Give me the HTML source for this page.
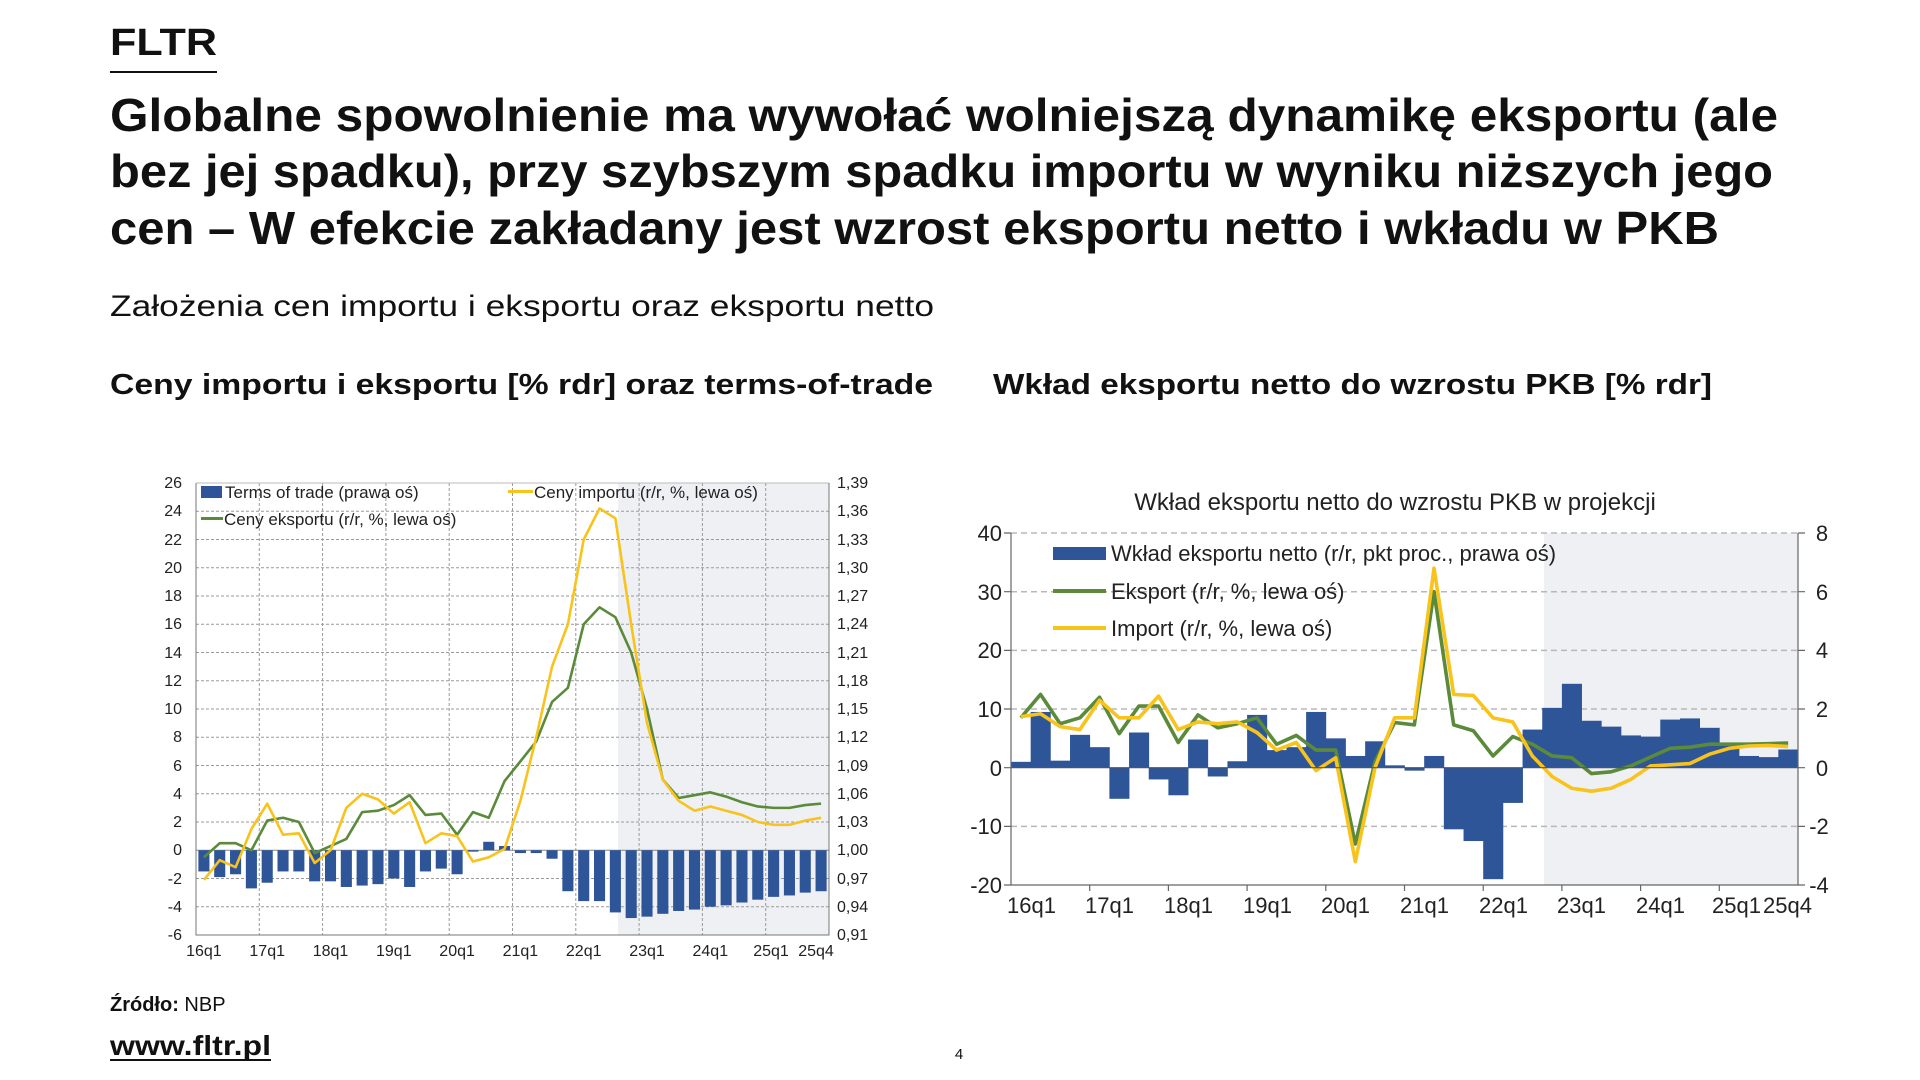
<!DOCTYPE html>
<html><head><meta charset="utf-8"><style>
html,body{margin:0;padding:0;background:#fff;}
svg{display:block;}
.t{font-family:"Liberation Sans",Arial,sans-serif;fill:#111;}
.ax{font-family:"Liberation Sans",Arial,sans-serif;fill:#222;}
</style></head><body>
<svg width="1920" height="1080" viewBox="0 0 1920 1080" xmlns="http://www.w3.org/2000/svg">
<rect width="1920" height="1080" fill="#fff"/>
<!-- header -->
<text class="t" x="110" y="55" font-size="38" font-weight="bold" textLength="107" lengthAdjust="spacingAndGlyphs">FLTR</text>
<rect x="110" y="71" width="107" height="2" fill="#111"/>
<text class="t" x="110" y="131" font-size="46" font-weight="bold" textLength="1668" lengthAdjust="spacingAndGlyphs">Globalne spowolnienie ma wywołać wolniejszą dynamikę eksportu (ale</text>
<text class="t" x="110" y="187" font-size="46" font-weight="bold" textLength="1663" lengthAdjust="spacingAndGlyphs">bez jej spadku), przy szybszym spadku importu w wyniku niższych jego</text>
<text class="t" x="110" y="244" font-size="46" font-weight="bold" textLength="1609" lengthAdjust="spacingAndGlyphs">cen – W efekcie zakładany jest wzrost eksportu netto i wkładu w PKB</text>
<text class="t" x="110" y="316" font-size="30" fill="#222" textLength="824" lengthAdjust="spacingAndGlyphs">Założenia cen importu i eksportu oraz eksportu netto</text>
<text class="t" x="110" y="394" font-size="29" font-weight="bold" textLength="823" lengthAdjust="spacingAndGlyphs">Ceny importu i eksportu [% rdr] oraz terms-of-trade</text>
<text class="t" x="993" y="394" font-size="29" font-weight="bold" textLength="719" lengthAdjust="spacingAndGlyphs">Wkład eksportu netto do wzrostu PKB [% rdr]</text>
<text class="t" x="110" y="1011" font-size="20"><tspan font-weight="bold">Źródło:</tspan> NBP</text>
<text class="t" x="110" y="1055" font-size="28" font-weight="bold" textLength="161" lengthAdjust="spacingAndGlyphs">www.fltr.pl</text>
<rect x="110" y="1059" width="161" height="2" fill="#111"/>
<text class="t" x="959" y="1059" font-size="15" text-anchor="middle">4</text>

<!-- LEFT CHART -->
<rect x="618" y="483" width="211" height="452" fill="#eef0f3"/>
<g stroke="#9a9a9a" stroke-width="1" stroke-dasharray="3,2" fill="none">
<path d="M196 511.25H829M196 539.5H829M196 567.75H829M196 596H829M196 624.25H829M196 652.5H829M196 680.75H829M196 709H829M196 737.25H829M196 765.5H829M196 793.75H829M196 822H829M196 878.5H829M196 906.75H829"/>
<path d="M259.3 483V935M322.6 483V935M385.9 483V935M449.2 483V935M512.5 483V935M575.8 483V935M639.1 483V935M702.4 483V935M765.7 483V935"/>
</g>
<path d="M196 483H829" stroke="#bbb" stroke-width="1"/>
<path d="M196 850.25H829" stroke="#888" stroke-width="1"/>
<path d="M196 483V935H829V483" stroke="#777" stroke-width="1" fill="none"/>
<g transform="translate(196,850.25) scale(15.825,-14.125)">
<g fill="#2e5597">
<rect x="0.15" y="-1.5" width="0.7" height="1.5"/><rect x="1.15" y="-1.9" width="0.7" height="1.9"/><rect x="2.15" y="-1.7" width="0.7" height="1.7"/><rect x="3.15" y="-2.7" width="0.7" height="2.7"/><rect x="4.15" y="-2.3" width="0.7" height="2.3"/><rect x="5.15" y="-1.5" width="0.7" height="1.5"/><rect x="6.15" y="-1.5" width="0.7" height="1.5"/><rect x="7.15" y="-2.2" width="0.7" height="2.2"/><rect x="8.15" y="-2.2" width="0.7" height="2.2"/><rect x="9.15" y="-2.6" width="0.7" height="2.6"/><rect x="10.15" y="-2.5" width="0.7" height="2.5"/><rect x="11.15" y="-2.4" width="0.7" height="2.4"/><rect x="12.15" y="-2.0" width="0.7" height="2.0"/><rect x="13.15" y="-2.6" width="0.7" height="2.6"/><rect x="14.15" y="-1.5" width="0.7" height="1.5"/><rect x="15.15" y="-1.3" width="0.7" height="1.3"/><rect x="16.15" y="-1.7" width="0.7" height="1.7"/><rect x="17.15" y="-0.1" width="0.7" height="0.1"/><rect x="18.15" y="0" width="0.7" height="0.6"/><rect x="19.15" y="0" width="0.7" height="0.3"/><rect x="20.15" y="-0.2" width="0.7" height="0.2"/><rect x="21.15" y="-0.2" width="0.7" height="0.2"/><rect x="22.15" y="-0.6" width="0.7" height="0.6"/><rect x="23.15" y="-2.9" width="0.7" height="2.9"/><rect x="24.15" y="-3.6" width="0.7" height="3.6"/><rect x="25.15" y="-3.6" width="0.7" height="3.6"/><rect x="26.15" y="-4.4" width="0.7" height="4.4"/><rect x="27.15" y="-4.8" width="0.7" height="4.8"/><rect x="28.15" y="-4.7" width="0.7" height="4.7"/><rect x="29.15" y="-4.5" width="0.7" height="4.5"/><rect x="30.15" y="-4.3" width="0.7" height="4.3"/><rect x="31.15" y="-4.2" width="0.7" height="4.2"/><rect x="32.15" y="-4.0" width="0.7" height="4.0"/><rect x="33.15" y="-3.9" width="0.7" height="3.9"/><rect x="34.15" y="-3.7" width="0.7" height="3.7"/><rect x="35.15" y="-3.5" width="0.7" height="3.5"/><rect x="36.15" y="-3.3" width="0.7" height="3.3"/><rect x="37.15" y="-3.2" width="0.7" height="3.2"/><rect x="38.15" y="-3.0" width="0.7" height="3.0"/><rect x="39.15" y="-2.9" width="0.7" height="2.9"/>
</g>
<polyline fill="none" stroke="#5a8a3a" stroke-width="2.6" vector-effect="non-scaling-stroke" stroke-linejoin="round" points="0.5,-0.5 1.5,0.5 2.5,0.5 3.5,0 4.5,2.1 5.5,2.3 6.5,2 7.5,-0.2 8.5,0.3 9.5,0.8 10.5,2.7 11.5,2.8 12.5,3.2 13.5,3.9 14.5,2.5 15.5,2.6 16.5,1.1 17.5,2.7 18.5,2.3 19.5,4.9 20.5,6.3 21.5,7.7 22.5,10.5 23.5,11.5 24.5,16 25.5,17.2 26.5,16.5 27.5,14 28.5,10 29.5,5 30.5,3.7 31.5,3.9 32.5,4.1 33.5,3.8 34.5,3.4 35.5,3.1 36.5,3 37.5,3 38.5,3.2 39.5,3.3"/>
<polyline fill="none" stroke="#f7c31c" stroke-width="2.6" vector-effect="non-scaling-stroke" stroke-linejoin="round" points="0.5,-2.1 1.5,-0.7 2.5,-1.2 3.5,1.5 4.5,3.3 5.5,1.1 6.5,1.2 7.5,-0.9 8.5,0 9.5,3 10.5,4 11.5,3.6 12.5,2.6 13.5,3.4 14.5,0.5 15.5,1.2 16.5,1 17.5,-0.8 18.5,-0.5 19.5,0.1 20.5,3.5 21.5,8 22.5,13 23.5,16 24.5,22 25.5,24.2 26.5,23.5 27.5,16 28.5,9 29.5,5 30.5,3.5 31.5,2.8 32.5,3.1 33.5,2.8 34.5,2.5 35.5,2 36.5,1.8 37.5,1.8 38.5,2.1 39.5,2.3"/>
</g>
<!-- left legend -->
<rect x="201" y="486" width="21" height="12" fill="#2e5597"/>
<text class="ax" x="225" y="498" font-size="17">Terms of trade (prawa oś)</text>
<rect x="508" y="490" width="25" height="3" fill="#f7c31c"/>
<text class="ax" x="534" y="498" font-size="17">Ceny importu (r/r, %, lewa oś)</text>
<rect x="201" y="517" width="22" height="3" fill="#5a8a3a"/>
<text class="ax" x="224" y="525" font-size="17">Ceny eksportu (r/r, %, lewa oś)</text>
<g class="ax" font-size="16" text-anchor="end">
<text x="182" y="488">26</text><text x="182" y="516">24</text><text x="182" y="545">22</text><text x="182" y="573">20</text><text x="182" y="601">18</text><text x="182" y="629">16</text><text x="182" y="658">14</text><text x="182" y="686">12</text><text x="182" y="714">10</text><text x="182" y="742">8</text><text x="182" y="771">6</text><text x="182" y="799">4</text><text x="182" y="827">2</text><text x="182" y="855">0</text><text x="182" y="884">-2</text><text x="182" y="912">-4</text><text x="182" y="940">-6</text>
</g>
<g class="ax" font-size="16">
<text x="837" y="488">1,39</text><text x="837" y="516">1,36</text><text x="837" y="545">1,33</text><text x="837" y="573">1,30</text><text x="837" y="601">1,27</text><text x="837" y="629">1,24</text><text x="837" y="658">1,21</text><text x="837" y="686">1,18</text><text x="837" y="714">1,15</text><text x="837" y="742">1,12</text><text x="837" y="771">1,09</text><text x="837" y="799">1,06</text><text x="837" y="827">1,03</text><text x="837" y="855">1,00</text><text x="837" y="884">0,97</text><text x="837" y="912">0,94</text><text x="837" y="940">0,91</text>
</g>
<g class="ax" font-size="16" text-anchor="middle">
<text x="203.9" y="956">16q1</text><text x="267.2" y="956">17q1</text><text x="330.5" y="956">18q1</text><text x="393.8" y="956">19q1</text><text x="457.1" y="956">20q1</text><text x="520.4" y="956">21q1</text><text x="583.7" y="956">22q1</text><text x="647" y="956">23q1</text><text x="710.3" y="956">24q1</text><text x="771" y="956">25q1</text><text x="816" y="956">25q4</text>
</g>

<!-- RIGHT CHART -->
<text class="ax" x="1395" y="510" font-size="24" text-anchor="middle">Wkład eksportu netto do wzrostu PKB w projekcji</text>
<rect x="1544" y="533" width="254" height="352" fill="#eef0f3"/>
<g stroke="#b8b8b8" stroke-width="1.5" stroke-dasharray="6,4" fill="none">
<path d="M1011 533H1798M1011 591.7H1798M1011 650.4H1798M1011 709H1798M1011 826.4H1798"/>
</g>
<g transform="translate(1011,767.7) scale(19.675,-5.867)" fill="#2e5597">
<rect x="0" y="0" width="1.02" height="1"/><rect x="1" y="0" width="1.02" height="9.5"/><rect x="2" y="0" width="1.02" height="1.2"/><rect x="3" y="0" width="1.02" height="5.6"/><rect x="4" y="0" width="1.02" height="3.5"/><rect x="5" y="-5.3" width="1.02" height="5.3"/><rect x="6" y="0" width="1.02" height="6"/><rect x="7" y="-2" width="1.02" height="2"/><rect x="8" y="-4.7" width="1.02" height="4.7"/><rect x="9" y="0" width="1.02" height="4.8"/><rect x="10" y="-1.5" width="1.02" height="1.5"/><rect x="11" y="0" width="1.02" height="1.1"/><rect x="12" y="0" width="1.02" height="9"/><rect x="13" y="0" width="1.02" height="3"/><rect x="14" y="0" width="1.02" height="3.5"/><rect x="15" y="0" width="1.02" height="9.5"/><rect x="16" y="0" width="1.02" height="5"/><rect x="17" y="0" width="1.02" height="2"/><rect x="18" y="0" width="1.02" height="4.5"/><rect x="19" y="0" width="1.02" height="0.4"/><rect x="20" y="-0.5" width="1.02" height="0.5"/><rect x="21" y="0" width="1.02" height="2"/><rect x="22" y="-10.5" width="1.02" height="10.5"/><rect x="23" y="-12.5" width="1.02" height="12.5"/><rect x="24" y="-19" width="1.02" height="19"/><rect x="25" y="-6" width="1.02" height="6"/><rect x="26" y="0" width="1.02" height="6.5"/><rect x="27" y="0" width="1.02" height="10.2"/><rect x="28" y="0" width="1.02" height="14.3"/><rect x="29" y="0" width="1.02" height="8"/><rect x="30" y="0" width="1.02" height="7"/><rect x="31" y="0" width="1.02" height="5.5"/><rect x="32" y="0" width="1.02" height="5.3"/><rect x="33" y="0" width="1.02" height="8.2"/><rect x="34" y="0" width="1.02" height="8.4"/><rect x="35" y="0" width="1.02" height="6.8"/><rect x="36" y="0" width="1.02" height="4"/><rect x="37" y="0" width="1.02" height="2"/><rect x="38" y="0" width="1.02" height="1.8"/><rect x="39" y="0" width="1" height="3.1"/>
<polyline fill="none" stroke="#5a8a3a" stroke-width="3.6" vector-effect="non-scaling-stroke" stroke-linejoin="round" points="0.5,8.5 1.5,12.5 2.5,7.5 3.5,8.5 4.5,12 5.5,5.8 6.5,10.5 7.5,10.5 8.5,4.3 9.5,9 10.5,6.8 11.5,7.5 12.5,8.5 13.5,4 14.5,5.5 15.5,3 16.5,3 17.5,-13 18.5,1 19.5,7.7 20.5,7.3 21.5,30 22.5,7.3 23.5,6.3 24.5,2 25.5,5.3 26.5,4 27.5,2 28.5,1.7 29.5,-1 30.5,-0.7 31.5,0.3 32.5,1.8 33.5,3.3 34.5,3.5 35.5,4 36.5,4 37.5,4 38.5,4.1 39.5,4.2"/>
<polyline fill="none" stroke="#f7c31c" stroke-width="3.6" vector-effect="non-scaling-stroke" stroke-linejoin="round" points="0.5,8.7 1.5,9.2 2.5,7 3.5,6.5 4.5,11.5 5.5,8.5 6.5,8.5 7.5,12.2 8.5,6.5 9.5,7.8 10.5,7.5 11.5,7.8 12.5,6 13.5,3 14.5,4.3 15.5,-0.5 16.5,1.7 17.5,-16 18.5,0 19.5,8.5 20.5,8.5 21.5,34 22.5,12.5 23.5,12.3 24.5,8.5 25.5,7.8 26.5,2 27.5,-1.5 28.5,-3.5 29.5,-4 30.5,-3.5 31.5,-2 32.5,0.3 33.5,0.5 34.5,0.7 35.5,2.3 36.5,3.3 37.5,3.7 38.5,3.8 39.5,3.6"/>
</g>
<path d="M1011 767.7H1798" stroke="#555" stroke-width="1.2"/>
<path d="M1011 533V885H1798V533" stroke="#666" stroke-width="1.2" fill="none"/>
<g stroke="#666" stroke-width="1.2">
<path d="M1004 533H1011M1004 591.7H1011M1004 650.4H1011M1004 709H1011M1004 767.7H1011M1004 826.4H1011M1004 885H1011"/>
<path d="M1798 533H1805M1798 591.7H1805M1798 650.4H1805M1798 709H1805M1798 767.7H1805M1798 826.4H1805M1798 885H1805"/>
<path d="M1089.7 885V891M1168.4 885V891M1247.1 885V891M1325.8 885V891M1404.5 885V891M1483.2 885V891M1561.9 885V891M1640.6 885V891M1719.3 885V891"/>
</g>
<!-- right legend -->
<rect x="1053" y="547" width="53" height="13" fill="#2e5597"/>
<text class="ax" x="1111" y="561" font-size="22">Wkład eksportu netto (r/r, pkt proc., prawa oś)</text>
<rect x="1053" y="589" width="53" height="4" fill="#5a8a3a"/>
<text class="ax" x="1111" y="599" font-size="22">Eksport (r/r, %, lewa oś)</text>
<rect x="1053" y="626" width="53" height="4" fill="#f7c31c"/>
<text class="ax" x="1111" y="636" font-size="22">Import (r/r, %, lewa oś)</text>
<g class="ax" font-size="22" text-anchor="end">
<text x="1002" y="541">40</text><text x="1002" y="600">30</text><text x="1002" y="658">20</text><text x="1002" y="717">10</text><text x="1002" y="776">0</text><text x="1002" y="834">-10</text><text x="1002" y="893">-20</text>
</g>
<g class="ax" font-size="22" text-anchor="middle">
<text x="1822" y="541">8</text><text x="1822" y="600">6</text><text x="1822" y="658">4</text><text x="1822" y="717">2</text><text x="1822" y="776">0</text><text x="1819" y="834">-2</text><text x="1819" y="893">-4</text>
</g>
<g class="ax" font-size="22">
<text x="1007" y="913">16q1</text><text x="1085" y="913">17q1</text><text x="1164" y="913">18q1</text><text x="1243" y="913">19q1</text><text x="1321" y="913">20q1</text><text x="1400" y="913">21q1</text><text x="1479" y="913">22q1</text><text x="1557" y="913">23q1</text><text x="1636" y="913">24q1</text><text x="1712" y="913">25q1</text><text x="1812" y="913" text-anchor="end">25q4</text>
</g>
</svg>
</body></html>
